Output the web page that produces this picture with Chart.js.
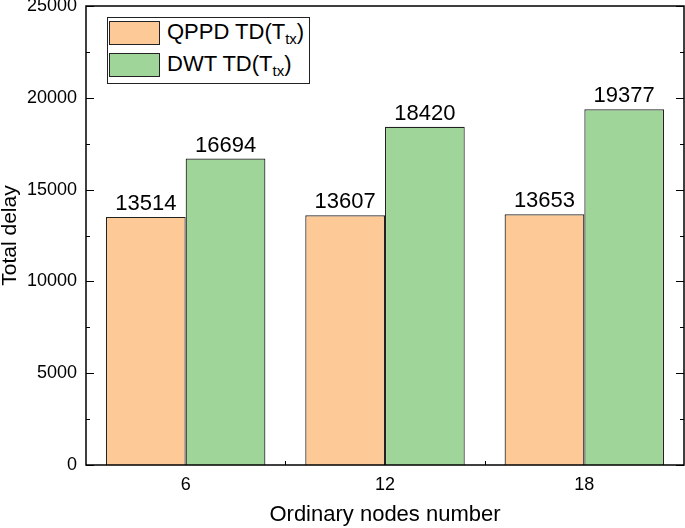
<!DOCTYPE html>
<html>
<head>
<meta charset="utf-8">
<script src="https://cdn.jsdelivr.net/npm/chart.js@4"></script>
<style>
  html, body { margin: 0; padding: 0; background: #fff; }
  #wrap { position: relative; width: 685px; height: 528px; }
  #legend {
    position: absolute; left: 107px; top: 17px; width: 201px; height: 65px;
    border: 1px solid #222; background: #fff; box-sizing: content-box;
    font-family: "Liberation Sans", Arial, sans-serif; font-size: 22px; color: #000;
  }
  #legend .row { position: absolute; left: 1px; height: 24px; }
  #legend .sw { position: absolute; left: 0; top: 0; width: 49px; height: 22px; border: 1px solid #222; }
  #legend .tx { position: absolute; left: 58px; top: -1px; white-space: nowrap; line-height: 24px; }
  #legend sub { font-size: 15px; vertical-align: -5px; line-height: 0; }
</style>
</head>
<body>
<div id="wrap">
  <canvas id="chart" width="685" height="528"></canvas>
  <div id="legend">
    <div class="row" style="top:3px"><div class="sw" style="background:rgb(253,201,150)"></div><div class="tx">QPPD TD(T<sub>tx</sub>)</div></div>
    <div class="row" style="top:35px"><div class="sw" style="background:rgb(160,213,153)"></div><div class="tx">DWT TD(T<sub>tx</sub>)</div></div>
  </div>
</div>
<script>
// données
const nodeLabels = ['6', '12', '18'];
const qppdDelay = [13514, 13607, 13653];
const dwtDelay = [16694, 18420, 19377];

const font = '"Liberation Sans", Arial, sans-serif';

// cadre + graduations vers l'intérieur + valeurs au-dessus des barres
const framePlugin = {
  id: 'frame',
  afterDatasetsDraw(chart) {
    const ctx = chart.ctx;
    const a = chart.chartArea;
    const y = chart.scales.y;
    const x = chart.scales.x;
    ctx.save();
    ctx.strokeStyle = '#000';
    ctx.lineWidth = 1.5;
    ctx.strokeRect(a.left, a.top, a.right - a.left, a.bottom - a.top);
    ctx.lineWidth = 1;
    for (let v = 0; v <= 25000; v += 2500) {
      const py = Math.round(y.getPixelForValue(v)) + 0.5;
      const len = v % 5000 === 0 ? 8 : 4;
      ctx.beginPath();
      ctx.moveTo(a.left, py); ctx.lineTo(a.left + len, py);
      ctx.moveTo(a.right, py); ctx.lineTo(a.right - len, py);
      ctx.stroke();
    }
    for (let i = 0; i < nodeLabels.length - 1; i++) {
      const px = Math.round((x.getPixelForValue(i) + x.getPixelForValue(i + 1)) / 2) + 0.5;
      ctx.beginPath();
      ctx.moveTo(px, a.bottom); ctx.lineTo(px, a.bottom - 4);
      ctx.stroke();
    }
    // étiquettes de valeurs
    ctx.fillStyle = '#000';
    ctx.font = '22px ' + font;
    ctx.textAlign = 'center';
    ctx.textBaseline = 'bottom';
    chart.data.datasets.forEach((ds, di) => {
      chart.getDatasetMeta(di).data.forEach((bar, i) => {
        ctx.fillText(String(ds.data[i]), bar.x, bar.y - 2);
      });
    });
    ctx.restore();
  }
};

const ctx = document.getElementById('chart').getContext('2d');
new Chart(ctx, {
  type: 'bar',
  data: {
    labels: nodeLabels,
    datasets: [
      {
        label: 'QPPD TD(Ttx)',
        data: qppdDelay,
        backgroundColor: 'rgb(253,201,150)',
        borderColor: '#222',
        borderWidth: 1.2
      },
      {
        label: 'DWT TD(Ttx)',
        data: dwtDelay,
        backgroundColor: 'rgb(160,213,153)',
        borderColor: '#222',
        borderWidth: 1.2
      }
    ]
  },
  options: {
    responsive: false,
    animation: false,
    layout: { padding: { top: 6, right: 1, left: 0, bottom: 0 } },
    datasets: { bar: { categoryPercentage: 0.8, barPercentage: 1 } },
    plugins: {
      legend: { display: false },
      tooltip: { enabled: false }
    },
    scales: {
      x: {
        grid: { display: false, drawTicks: false },
        border: { display: false },
        ticks: { color: '#000', font: { family: font, size: 18 }, padding: 9 },
        title: { display: true, text: 'Ordinary nodes number', color: '#000', font: { family: font, size: 22 }, padding: { top: 0, bottom: 0 } },
        afterFit(s) { s.height = 63; s.paddingLeft = 0; s.paddingRight = 0; }
      },
      y: {
        min: 0,
        max: 25000,
        grid: { display: false, drawTicks: false },
        border: { display: false },
        ticks: { stepSize: 5000, color: '#000', font: { family: font, size: 18 }, padding: 9, callback: (v) => String(v) },
        title: { display: true, text: 'Total delay', color: '#000', font: { family: font, size: 21, lineHeight: 1 }, padding: { top: 0, bottom: 0 } },
        afterFit(s) { s.width = 86; s.paddingTop = 0; s.paddingBottom = 0; }
      }
    }
  },
  plugins: [framePlugin]
});
</script>
</body>
</html>
